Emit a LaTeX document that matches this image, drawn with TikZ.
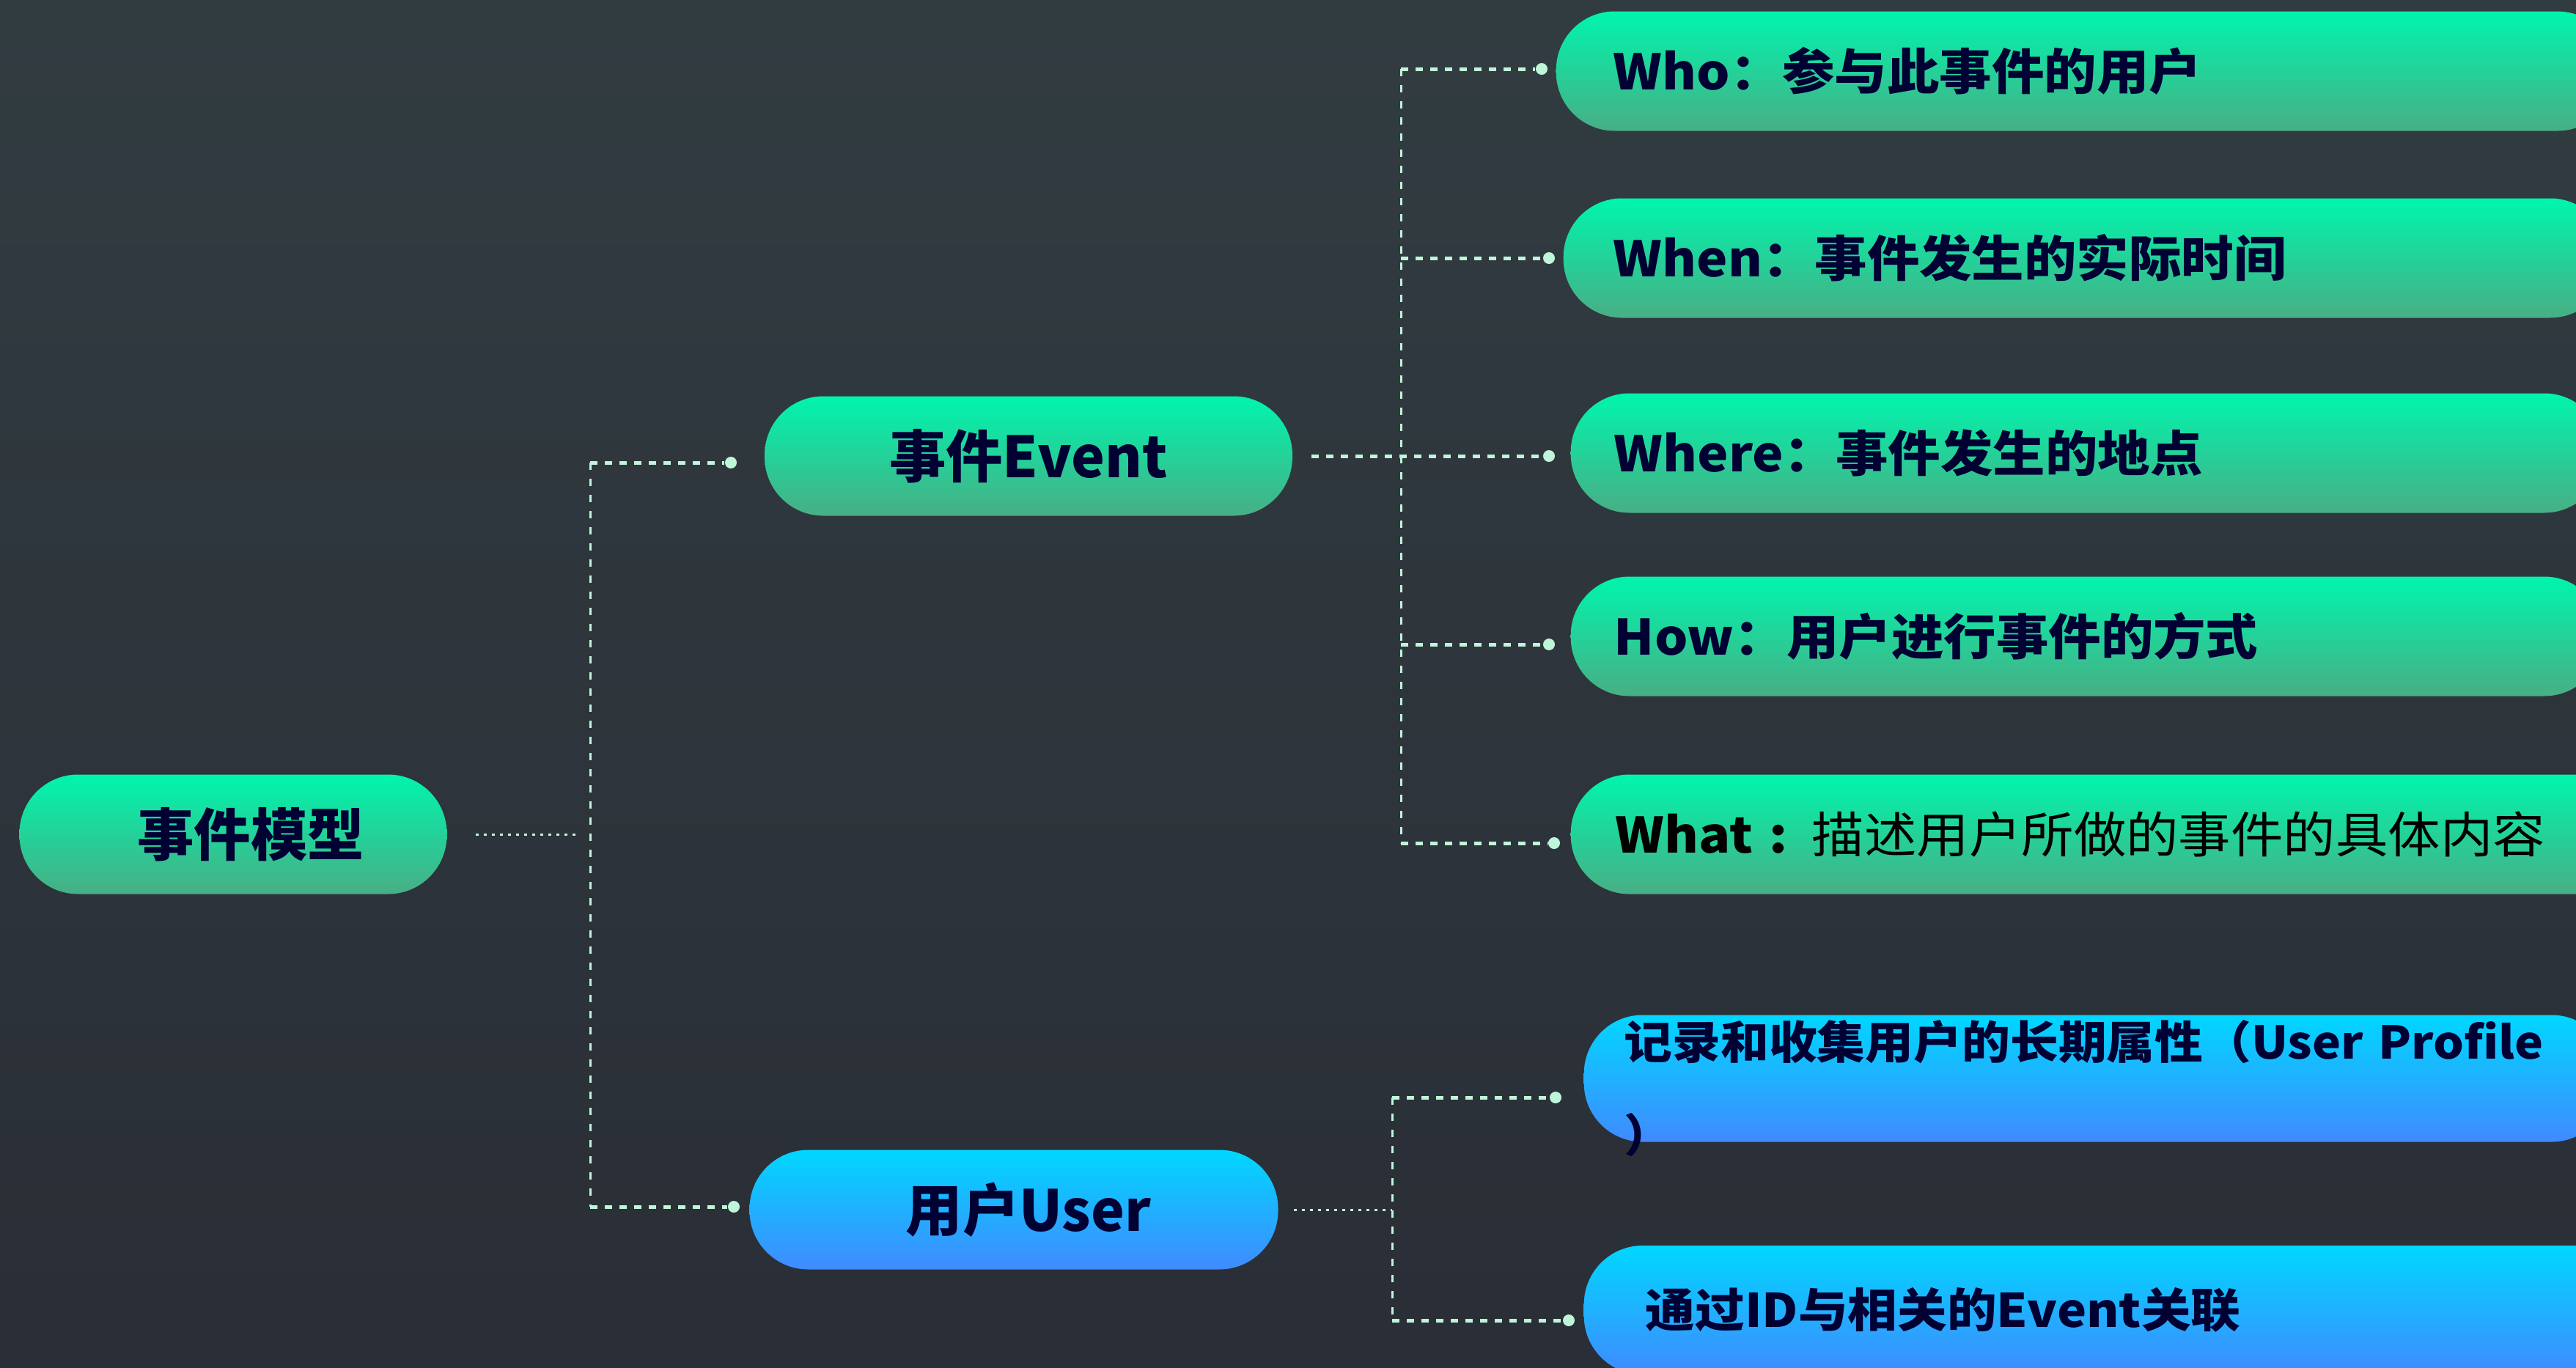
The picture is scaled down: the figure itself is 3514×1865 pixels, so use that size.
\documentclass[tikz,border=0pt]{standalone}
\usepackage{fontspec}
\setmainfont{Noto Sans CJK SC}
\newfontfamily\leaffont{Noto Sans CJK SC}[FakeStretch=1.07]
\usetikzlibrary{positioning}

\definecolor{bgtop}{RGB}{49,60,65}
\definecolor{bgbot}{RGB}{42,46,54}
\definecolor{greentop}{RGB}{0,245,173}
\definecolor{greenmid}{RGB}{38,226,158}
\definecolor{greenbot}{RGB}{72,174,133}
\definecolor{bluetop}{RGB}{0,215,255}
\definecolor{bluemid}{RGB}{30,185,255}
\definecolor{bluebot}{RGB}{64,138,255}
\definecolor{inkblue}{RGB}{0,0,51}
\definecolor{wire}{RGB}{191,245,216}

\tikzset{
  pill/.style={rounded corners=0.8cm, minimum height=1.63cm, inner sep=0pt, text=inkblue},
  greenpill/.style={pill, top color=greentop, middle color=greenmid, bottom color=greenbot},
  bluepill/.style={pill, top color=bluetop, middle color=bluemid, bottom color=bluebot},
  mainpill/.style={font=\bfseries\fontsize{22}{26}\selectfont},
  leafpill/.style={anchor=west, inner xsep=#1, text width=12.9cm, align=left,
    font=\leaffont\bfseries\fontsize{19}{36}\selectfont},
  knob/.style={circle, fill=wire, inner sep=0pt, minimum size=0.16cm},
  bigdots/.style={wire, line width=0.05cm, dash pattern=on 0.1cm off 0.1cm},
  smalldots/.style={wire, line width=0.03cm, dash pattern=on 0.04cm off 0.07cm},
  trunk/.style={wire, line width=0.03cm, dash pattern=on 0.1cm off 0.12cm}
}

\begin{document}
\begin{tikzpicture}[x=0.1mm,y=-0.1mm]
	\path[use as bounding box, top color=bgtop, bottom color=bgbot] (0,0) rectangle (3514,1865);

	% main nodes
	\node[greenpill, mainpill, minimum width=5.83cm] (model) at (318,1138) {\hspace*{0.48cm}事件模型};
	\node[greenpill, mainpill, minimum width=7.2cm] (event) at (1403,622) {事件Event};
	\node[bluepill, mainpill, minimum width=7.21cm] (user) at (1383,1650) {\hspace*{0.4cm}用户User};

	% event details
	\node[greenpill, leafpill=0.78cm] (who) at (2122,97) {Who：参与此事件的用户};
	\node[greenpill, leafpill=0.68cm] (when) at (2132,352) {When：事件发生的实际时间};
	\node[greenpill, leafpill=0.59cm] (where) at (2142,618) {Where：事件发生的地点};
	\node[greenpill, leafpill=0.59cm] (how) at (2142,868) {How：用户进行事件的方式};
	\node[greenpill, leafpill=0.61cm, text width=13.6cm] (what) at (2142,1138)
		{\color{black}\textbf{What} : {\mdseries 描述用户所做的事件的具体内容}};

	% user details
	\node[bluepill, leafpill=0.55cm, minimum height=1.73cm, font=\leaffont\bfseries\fontsize{17.5}{36}\selectfont] (profile) at (2160,1471)
		{\smash{\raisebox{-0.27cm}{\begin{tabular}{@{}l@{}}记录和收集用户的长期属性（User Profile\\）\end{tabular}}}};
	\node[bluepill, leafpill=0.84cm, minimum height=1.76cm, font=\leaffont\bfseries\fontsize{18}{36}\selectfont] (link) at (2160,1787) {通过ID与相关的Event关联};

	% knobs
	\node[knob] (kevent) at (997,631) {};
	\node[knob] (kuser) at (1001,1646) {};
	\node[knob] (kwho) at (2103,94) {};
	\node[knob] (kwhen) at (2113,352) {};
	\node[knob] (kwhere) at (2113,622) {};
	\node[knob] (khow) at (2113,879) {};
	\node[knob] (kwhat) at (2120,1150) {};
	\node[knob] (kprofile) at (2122,1497) {};
	\node[knob] (klink) at (2140,1801) {};

	\coordinate (rootend) at (789,1138);
	\coordinate (ttop) at (805,631);
	\coordinate (tbot) at (805,1646);
	\coordinate (etop) at (1911,94);
	\coordinate (ebot) at (1911,1150);
	\coordinate (utop) at (1899,1497);
	\coordinate (ubot) at (1899,1801);

	% root to trunk
	\draw[smalldots] ([xshift=0.39cm]model.east) -- (rootend);
	\draw[trunk] (ttop) -- (tbot);
	\draw[bigdots] (ttop) -- (kevent);
	\draw[bigdots] (tbot) -- (kuser);

	% event branch
	\draw[trunk] (etop) -- (ebot);
	\draw[bigdots] ([xshift=0.25cm]event.east) -- (kwhere);
	\foreach \k in {kwho,kwhen,khow,kwhat}{
		\draw[bigdots] (\k -| etop) -- (\k);
	}

	% user branch
	\draw[smalldots] ([xshift=0.21cm]user.east) -- (user.east -| utop);
	\draw[trunk] (utop) -- (ubot);
	\foreach \k in {kprofile,klink}{
		\draw[bigdots] (\k -| utop) -- (\k);
	}
\end{tikzpicture}
\end{document}
